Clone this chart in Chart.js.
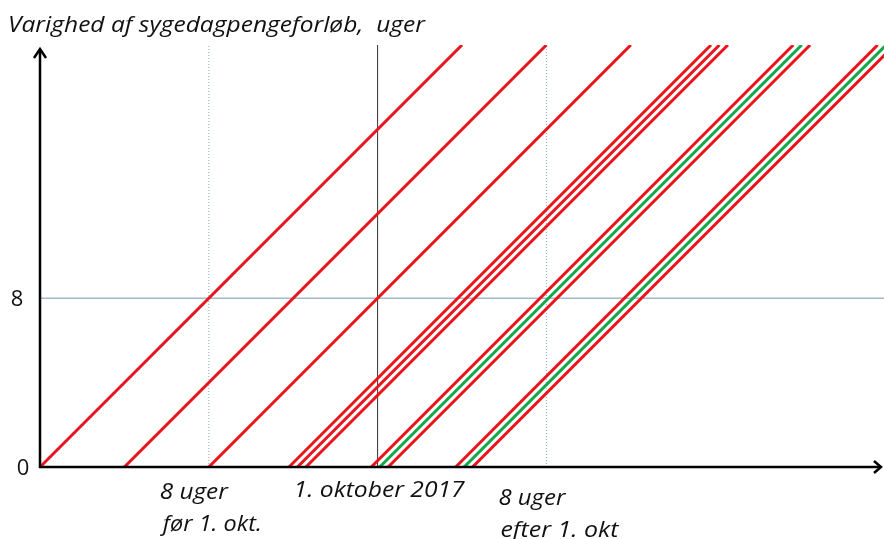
<!DOCTYPE html>
<html lang="da">
<head>
<meta charset="UTF-8">
<title>Sygedagpengeforløb</title>
<script src="https://cdn.jsdelivr.net/npm/chart.js"></script>
<style>
  html, body { margin: 0; padding: 0; background: #fff; }
  #wrap { width: 884px; height: 539px; position: relative; }
</style>
</head>
<body>
<div id="wrap"><canvas id="chart"></canvas></div>
<script>
// start week of each forløb on the time axis; each runs from 0 to 'varighed' weeks
const forlobStart = [0, 4, 8, 11.8, 12.2, 12.6, 15.7, 16.1, 16.5, 19.7, 20.1, 20.5];
const forlobType  = ['r', 'r', 'r', 'r', 'r', 'r', 'r', 'g', 'r', 'r', 'g', 'r'];
const varighed = 20;
const xMax = 40;
const yMax = 20;
const yTicks = [0, 8];
const refWeeks = [8, 16, 24];      // 8 uger før, 1. oktober, 8 uger efter
const refDuration = 8;
const yTitle = 'Varighed af sygedagpengeforløb,  uger';
const xTexts = [['8 uger', 'før 1. okt.'], ['1. oktober 2017'], ['8 uger', 'efter 1. okt']];

const RED = '#e8151b';
const GREEN = '#12a84a';
const FONT = '"Open Sans", Lato, sans-serif';

const datasets = [];
forlobStart.forEach((s, i) => {
  datasets.push({
    data: [{ x: s, y: 0 }, { x: s + varighed, y: varighed }],
    borderColor: forlobType[i] === 'g' ? GREEN : RED,
    borderWidth: 3,
    pointRadius: 0,
    showLine: true,
    order: 0
  });
});
refWeeks.forEach((w, i) => {
  datasets.push({
    data: [{ x: w, y: 0 }, { x: w, y: yMax }],
    borderColor: i === 1 ? '#333333' : '#8ea6c4',
    borderWidth: 1,
    borderDash: i === 1 ? [] : [1, 2],
    pointRadius: 0,
    showLine: true,
    order: 1
  });
});
datasets.push({
  data: [{ x: 0, y: refDuration }, { x: xMax, y: refDuration }],
  borderColor: '#a3b8cc',
  borderWidth: 1.5,
  pointRadius: 0,
  showLine: true,
  order: 1
});

// draw text stretched horizontally to a given width (the original used Calibri)
function fitText(ctx, text, x, y, width) {
  const w = ctx.measureText(text).width;
  ctx.save();
  ctx.translate(x, y);
  ctx.scale(width / w, 1);
  ctx.fillText(text, 0, 0);
  ctx.restore();
}

const axesPlugin = {
  id: 'axes',
  afterDatasetsDraw(chart) {
    const { ctx, chartArea: a, scales: { x, y } } = chart;
    const x0 = x.getPixelForValue(0), y0 = y.getPixelForValue(0);
    ctx.save();
    ctx.strokeStyle = '#000';
    ctx.lineWidth = 2.5;
    // y axis with arrow
    ctx.beginPath();
    ctx.moveTo(x0, y0 + 1);
    ctx.lineTo(x0, a.top + 4);
    ctx.stroke();
    ctx.beginPath();
    ctx.moveTo(x0 - 6, a.top + 13);
    ctx.lineTo(x0, a.top + 4);
    ctx.lineTo(x0 + 6, a.top + 13);
    ctx.stroke();
    // x axis with arrow
    ctx.beginPath();
    ctx.moveTo(x0 - 1, y0);
    ctx.lineTo(a.right - 3, y0);
    ctx.stroke();
    ctx.beginPath();
    ctx.moveTo(a.right - 10, y0 - 6);
    ctx.lineTo(a.right - 3, y0);
    ctx.lineTo(a.right - 10, y0 + 6);
    ctx.stroke();

    // y tick labels
    ctx.fillStyle = '#111';
    ctx.font = '22px ' + FONT;
    ctx.textAlign = 'center';
    ctx.textBaseline = 'middle';
    yTicks.forEach(t => {
      ctx.fillText(String(t), t === 0 ? 23 : 17, y.getPixelForValue(t) + 2);
    });

    // axis title
    ctx.font = 'italic 22px ' + FONT;
    ctx.textAlign = 'left';
    ctx.textBaseline = 'alphabetic';
    fitText(ctx, yTitle, 8, 32, 417);

    // x labels: [left, baseline, target width] per text line
    const place = [
      [[-49, 499, 68], [-46, 531, 99]],
      [[-84, 497, 171]],
      [[-48, 505, 67], [-46, 537, 118]]
    ];
    refWeeks.forEach((w, i) => {
      const px = x.getPixelForValue(w);
      xTexts[i].forEach((t, j) => {
        const [dx, by, tw] = place[i][j];
        fitText(ctx, t, px + dx, by, tw);
      });
    });
    ctx.restore();
  }
};

new Chart(document.getElementById('chart'), {
  type: 'scatter',
  data: { datasets },
  options: {
    responsive: true,
    maintainAspectRatio: false,
    animation: false,
    layout: { padding: { left: 40, right: 0, top: 45, bottom: 72 } },
    plugins: { legend: { display: false }, tooltip: { enabled: false } },
    scales: {
      x: { type: 'linear', min: 0, max: xMax, display: false },
      y: { type: 'linear', min: 0, max: yMax, display: false }
    }
  },
  plugins: [axesPlugin]
});
</script>
</body>
</html>
